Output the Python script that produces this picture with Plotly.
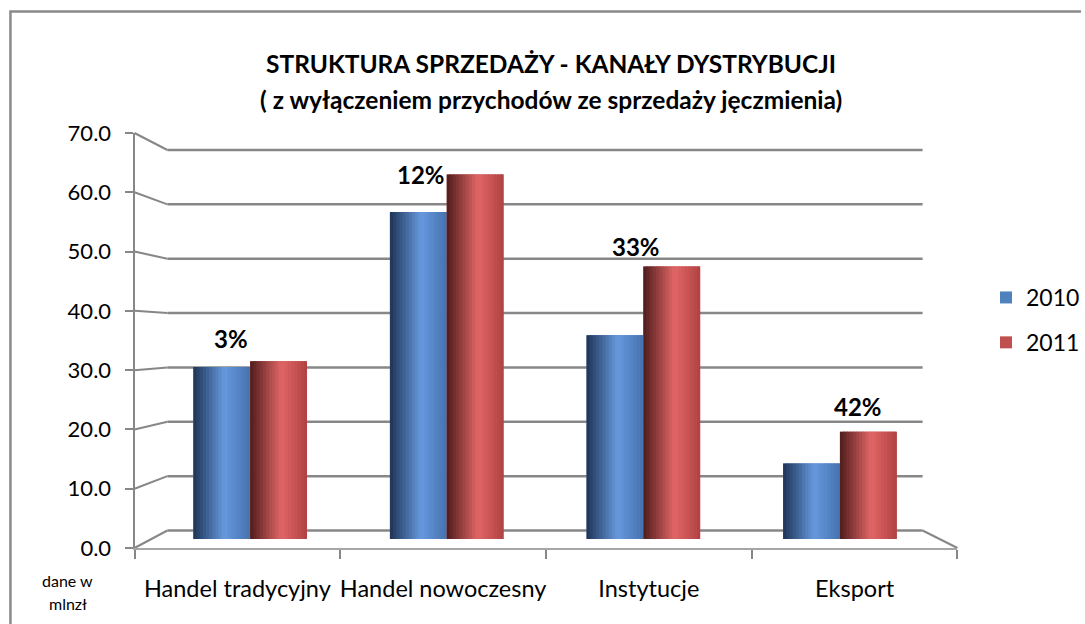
import plotly.graph_objects as go

categories = ["Handel tradycyjny", "Handel nowoczesny", "Instytucje", "Eksport"]
series_names = ["2010", "2011"]
values_2010 = [30.3, 57.6, 35.9, 13.3]
values_2011 = [31.3, 64.2, 48.0, 18.9]
growth_labels = ["3%", "12%", "33%", "42%"]
y_ticks = [0, 10, 20, 30, 40, 50, 60, 70]

W, H = 1085, 624


def px(x):
    return x / W


def py(y):
    return 1 - y / H


FONT = "Lato, 'Open Sans', sans-serif"
GRID = "#878787"

BAR_W = 0.289
N = 18

blue_stops = [(0.0, (30, 52, 86)), (0.55, (103, 153, 223)), (1.0, (70, 114, 174))]
red_stops = [(0.0, (80, 28, 28)), (0.55, (226, 102, 102)), (1.0, (176, 66, 66))]


def shade(stops, t):
    for (t0, c0), (t1, c1) in zip(stops[:-1], stops[1:]):
        if t0 <= t <= t1:
            f = (t - t0) / (t1 - t0)
            c = [round(a + (b - a) * f) for a, b in zip(c0, c1)]
            return "rgb(%d,%d,%d)" % tuple(c)
    return "rgb(%d,%d,%d)" % stops[-1][1]


fig = go.Figure()

series = [
    (series_names[0], values_2010, "#4f81bd", -BAR_W, blue_stops),
    (series_names[1], values_2011, "#c0504d", 0.0, red_stops),
]

for name, vals, base_col, off0, stops in series:
    fig.add_bar(x=categories, y=vals, name=name, width=BAR_W, offset=off0,
                marker=dict(color=base_col, line=dict(width=0)),
                legendgroup=name, showlegend=True, hoverinfo="y+name")
    step = BAR_W / N
    for i in range(N):
        t = (i + 0.5) / N
        w = step * 1.6 if i < N - 1 else step
        fig.add_bar(x=categories, y=vals, width=w, offset=off0 + i * step,
                    marker=dict(color=shade(stops, t), line=dict(width=0)),
                    legendgroup=name, showlegend=False, hoverinfo="skip")

# front-plane helper trace (invisible) to carry the front axes
fig.add_scatter(x=categories, y=values_2011, xaxis="x2", yaxis="y2", mode="markers",
                marker=dict(opacity=0), showlegend=False, hoverinfo="skip")

shapes = []
# perspective gridlines: side wall + back wall
for v in y_ticks:
    yf = 548 - v * (548 - 133) / 70
    yb = 530.5 - v * (530.5 - 150) / 70
    shapes.append(dict(type="line", xref="paper", yref="paper",
                       x0=px(135), y0=py(yf), x1=px(168), y1=py(yb),
                       line=dict(color=GRID, width=2), layer="below"))
    shapes.append(dict(type="line", xref="paper", yref="paper",
                       x0=px(168), y0=py(yb), x1=px(926), y1=py(yb),
                       line=dict(color=GRID, width=2.5), layer="below"))
# right floor edge
shapes.append(dict(type="line", xref="paper", yref="paper",
                   x0=px(926), y0=py(530.5), x1=px(961), y1=py(548),
                   line=dict(color=GRID, width=2), layer="below"))
# chart border (left and top)
shapes.append(dict(type="path", xref="paper", yref="paper",
                   path="M %f,%f L %f,%f L %f,%f" % (px(10.5), 0, px(10.5), py(11.5), 1.0, py(11.5)),
                   line=dict(color="#8a8a8a", width=2.5)))

annotations = []
label_xshift = [-19, -26, -7, 18]
label_yshift = [23, 0, 20, 25]
for i, lab in enumerate(growth_labels):
    annotations.append(dict(xref="x", yref="y", x=categories[i], y=values_2011[i],
                            text="<b>%s</b>" % lab, showarrow=False,
                            xanchor="center", yanchor="middle",
                            xshift=label_xshift[i], yshift=label_yshift[i],
                            font=dict(family=FONT, size=24, color="black")))

annotations.append(dict(xref="paper", yref="paper", x=px(553), y=py(64),
                        text="<b>STRUKTURA SPRZEDAŻY - KANAŁY DYSTRYBUCJI</b>",
                        showarrow=False, xanchor="center", yanchor="middle",
                        font=dict(family=FONT, size=24.5, color="black")))
annotations.append(dict(xref="paper", yref="paper", x=px(553), y=py(99),
                        text="<b>( z wyłączeniem przychodów ze sprzedaży jęczmienia)</b>",
                        showarrow=False, xanchor="center", yanchor="middle",
                        font=dict(family=FONT, size=24.5, color="black")))
annotations.append(dict(xref="paper", yref="paper", x=px(68), y=py(580),
                        text="dane w", showarrow=False, xanchor="center", yanchor="middle",
                        font=dict(family=FONT, size=16, color="black")))
annotations.append(dict(xref="paper", yref="paper", x=px(68), y=py(603),
                        text="mlnzł", showarrow=False, xanchor="center", yanchor="middle",
                        font=dict(family=FONT, size=16, color="black")))

fig.update_layout(
    template="none",
    width=W, height=H,
    margin=dict(l=0, r=0, t=0, b=0),
    paper_bgcolor="white", plot_bgcolor="rgba(0,0,0,0)",
    barmode="overlay",
    font=dict(family=FONT, size=22, color="black"),
    xaxis=dict(domain=[px(152.4), px(941.7)], range=[-0.5, 3.5], type="category",
               visible=False, anchor="y", automargin=False),
    yaxis=dict(domain=[py(539), py(141.5)], range=[0, 70], visible=False,
               anchor="x", automargin=False),
    xaxis2=dict(domain=[px(135), px(961)], range=[-0.5, 3.5], type="category",
                anchor="y2", tickson="boundaries", ticks="outside", ticklen=9,
                tickwidth=2, tickcolor=GRID, showline=True, linecolor="#a6a6a6",
                linewidth=2, showgrid=False, zeroline=False, automargin=False,
                tickangle=0,
                tickfont=dict(family=FONT, size=23.5, color="black"),
                ticklabelstandoff=19),
    yaxis2=dict(domain=[py(548), py(133)], range=[0, 70], anchor="x2",
                tickvals=y_ticks, tickformat=".1f", ticks="outside", ticklen=8,
                tickwidth=2, tickcolor=GRID, showline=True, linecolor=GRID,
                linewidth=2, showgrid=False, zeroline=False, automargin=False,
                tickfont=dict(family=FONT, size=22, color="black"),
                ticklabelstandoff=9),
    legend=dict(x=px(990), y=py(276), xanchor="left", yanchor="top",
                bgcolor="rgba(0,0,0,0)", font=dict(family=FONT, size=23, color="black"),
                tracegroupgap=12, traceorder="grouped"),
    shapes=shapes,
    annotations=annotations,
)

fig.write_html("out.html", config={"displayModeBar": False},
               post_script="document.body.style.margin='0';document.body.style.overflow='hidden';")
